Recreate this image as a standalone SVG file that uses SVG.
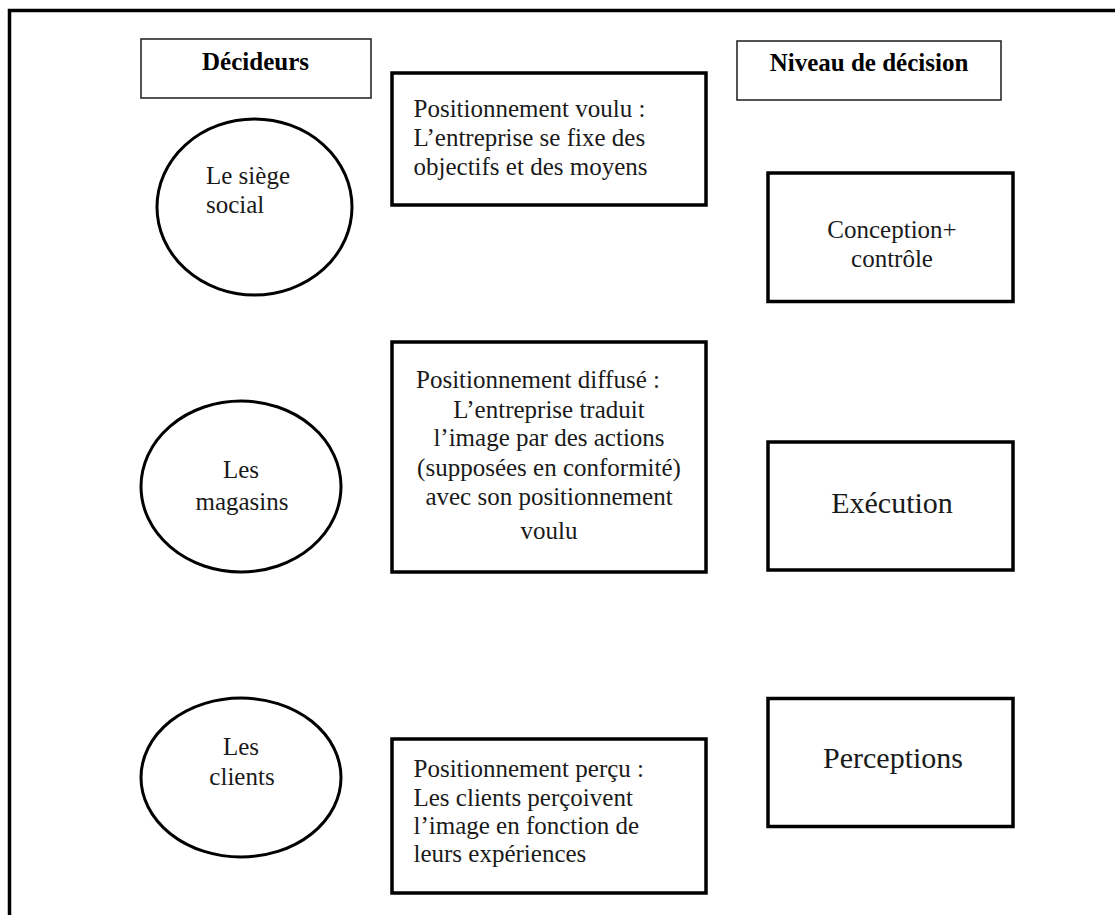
<svg xmlns="http://www.w3.org/2000/svg" width="1115" height="915" viewBox="0 0 1115 915">
  <style>
    .bg { fill: #ffffff; }
    .frame { fill: none; stroke: #000; stroke-width: 3.5; }
    .thin { fill: #fff; stroke: #2a2a2a; stroke-width: 1.6; }
    .thick { fill: #fff; stroke: #000; stroke-width: 3.5; }
    .oval { fill: #fff; stroke: #000; stroke-width: 3; }
    text { font-family: "Liberation Serif", "Times New Roman", serif; fill: #1a1a1a; }
    .t { font-size: 25px; }
    .h { font-size: 25px; font-weight: bold; fill: #000; }
    .big { font-size: 30px; }
    .mid { text-anchor: middle; }
  </style>

  <rect class="bg" x="0" y="0" width="1115" height="915"/>
  <!-- outer frame, open on the right and bottom -->
  <rect class="frame" x="9.5" y="10.5" width="1200" height="1000"/>

  <!-- column headers -->
  <g id="decideurs">
    <rect class="thin" x="141" y="39" width="230" height="59"/>
    <text class="h mid" x="255.5" y="69.5">Décideurs</text>
  </g>
  <g id="niveau-decision">
    <rect class="thin" x="737" y="41" width="264" height="59"/>
    <text class="h mid" x="869" y="71">Niveau de décision</text>
  </g>

  <!-- deciders -->
  <g id="siege-social">
    <ellipse class="oval" cx="254.5" cy="207" rx="97.5" ry="88"/>
    <text class="t" x="206" y="183.5">Le siège</text>
    <text class="t" x="206" y="213">social</text>
  </g>
  <g id="magasins">
    <ellipse class="oval" cx="241" cy="486.5" rx="100" ry="85.5"/>
    <text class="t mid" x="241" y="478">Les</text>
    <text class="t mid" x="242" y="510">magasins</text>
  </g>
  <g id="clients">
    <ellipse class="oval" cx="241" cy="777.5" rx="100" ry="79.5"/>
    <text class="t mid" x="241" y="755">Les</text>
    <text class="t mid" x="242" y="785">clients</text>
  </g>

  <!-- positioning descriptions -->
  <g id="positionnement-voulu">
    <rect class="thick" x="392" y="73" width="314" height="132"/>
    <text class="t" x="413.5" y="117">Positionnement voulu :</text>
    <text class="t" x="413.5" y="146">L’entreprise se fixe des</text>
    <text class="t" x="413.5" y="175">objectifs et des moyens</text>
  </g>
  <g id="positionnement-diffuse">
    <rect class="thick" x="392" y="342" width="314" height="230"/>
    <text class="t mid" x="538" y="388">Positionnement diffusé :</text>
    <text class="t mid" x="549" y="418">L’entreprise traduit</text>
    <text class="t mid" x="549" y="446">l’image par des actions</text>
    <text class="t mid" x="549" y="476">(supposées en conformité)</text>
    <text class="t mid" x="549" y="505">avec son positionnement</text>
    <text class="t mid" x="549" y="539">voulu</text>
  </g>
  <g id="positionnement-percu">
    <rect class="thick" x="392" y="739" width="314" height="154"/>
    <text class="t" x="413.5" y="777">Positionnement perçu :</text>
    <text class="t" x="413.5" y="806">Les clients perçoivent</text>
    <text class="t" x="413.5" y="834">l’image en fonction de</text>
    <text class="t" x="413.5" y="862">leurs expériences</text>
  </g>

  <!-- decision levels -->
  <g id="conception-controle">
    <rect class="thick" x="768" y="173" width="245" height="128.5"/>
    <text class="t mid" x="892" y="237.5">Conception+</text>
    <text class="t mid" x="892" y="267">contrôle</text>
  </g>
  <g id="execution">
    <rect class="thick" x="768" y="442" width="245" height="128"/>
    <text class="big mid" x="892" y="513">Exécution</text>
  </g>
  <g id="perceptions">
    <rect class="thick" x="768" y="698.5" width="245" height="128"/>
    <text class="big mid" x="893" y="768">Perceptions</text>
  </g>
</svg>
